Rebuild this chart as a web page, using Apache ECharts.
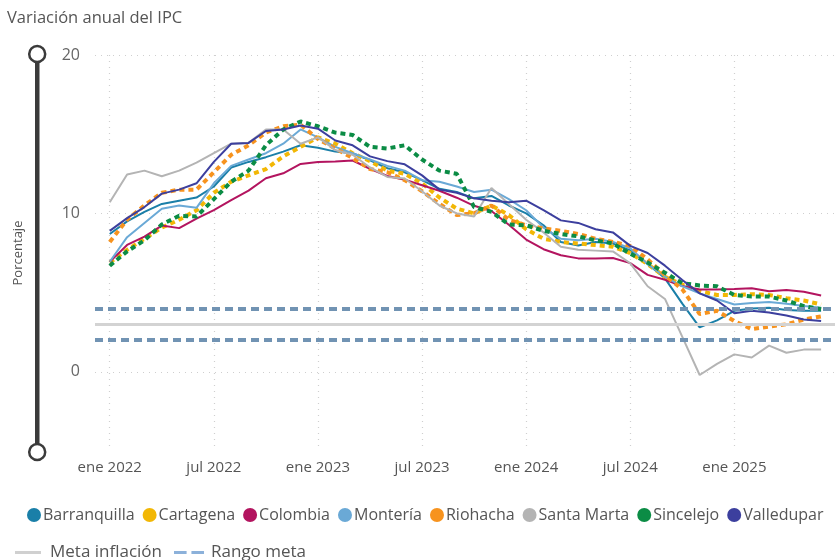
<!DOCTYPE html>
<html>
<head>
<meta charset="utf-8">
<script src="https://cdn.jsdelivr.net/npm/echarts@6/dist/echarts.min.js"></script>
<style>
html,body{margin:0;padding:0;background:#fff;}
#chart{width:835px;height:560px;}
</style>
</head>
<body>
<div id="chart"></div>
<script>
// meses ene 2022 .. jun 2025
const mesesCortos = ['ene','feb','mar','abr','may','jun','jul','ago','sep','oct','nov','dic']
const meses = []
for (let a = 2022; a <= 2025; a++) {
    for (let m = 0; m < 12; m++) {
        if (a === 2025 && m > 5) break
        meses.push(mesesCortos[m] + ' ' + a)
    }
}
const xTicks = [0, 6, 12, 18, 24, 30, 36]
const yTicks = [0, 10, 20]

const barranquilla = [8.7, 9.5, 10.1, 10.6, 10.8, 11.0, 11.7, 12.9, 13.25, 13.55, 13.9, 14.3, 14.15, 13.9, 13.8, 13.35, 12.85, 12.6, 12.1, 11.55, 11.35, 10.95, 11.1, 10.5, 10.0, 9.25, 8.2, 7.97, 8.2, 8.1, 7.66, 6.8, 5.9, 4.3, 2.8, 3.25, 3.85, 4.0, 4.05, 3.9, 3.85, 3.85]
const cartagena = [6.9, 7.7, 8.4, 9.1, 9.6, 10.2, 11.3, 12.0, 12.4, 12.8, 13.6, 14.2, 14.8, 14.4, 13.8, 13.3, 12.7, 12.5, 11.9, 11.0, 10.3, 10.0, 10.5, 9.9, 9.0, 8.4, 8.2, 8.1, 8.0, 7.9, 7.5, 6.8, 6.0, 5.5, 5.1, 4.85, 4.85, 4.9, 4.85, 4.65, 4.5, 4.25]
const colombia = [6.94, 8.01, 8.53, 9.23, 9.07, 9.67, 10.21, 10.84, 11.44, 12.22, 12.53, 13.12, 13.25, 13.28, 13.34, 12.82, 12.36, 12.13, 11.78, 11.43, 10.99, 10.48, 10.15, 9.28, 8.35, 7.74, 7.36, 7.16, 7.16, 7.18, 6.86, 6.12, 5.81, 5.41, 5.20, 5.20, 5.22, 5.28, 5.09, 5.16, 5.05, 4.82]
const monteria = [6.95, 8.5, 9.4, 10.3, 10.5, 10.35, 11.9, 13.0, 13.4, 13.8, 14.4, 15.3, 14.8, 14.2, 13.8, 13.4, 13.0, 12.7, 12.1, 12.0, 11.7, 11.35, 11.5, 10.9, 10.2, 9.1, 8.4, 8.3, 8.4, 8.2, 7.8, 6.8, 6.0, 5.4, 4.95, 4.6, 4.25, 4.35, 4.4, 4.3, 4.15, 4.05]
const riohacha = [8.2, 9.6, 10.5, 11.3, 11.5, 11.5, 12.6, 13.7, 14.3, 15.1, 15.5, 15.6, 14.7, 14.1, 13.5, 12.8, 12.6, 12.1, 11.4, 10.6, 9.9, 10.0, 10.5, 9.6, 9.25, 9.05, 8.9, 8.7, 8.4, 8.2, 7.95, 7.1, 6.1, 5.2, 3.65, 3.85, 3.2, 2.7, 2.85, 3.0, 3.3, 3.5]
const santaMarta = [10.7, 12.45, 12.7, 12.35, 12.7, 13.2, 13.8, 14.4, 14.45, 15.3, 15.3, 14.4, 14.8, 14.0, 13.7, 12.9, 12.3, 12.2, 11.4, 10.5, 10.0, 9.8, 11.6, 10.6, 9.6, 8.8, 7.9, 7.7, 7.65, 7.6, 6.85, 5.4, 4.6, 2.2, -0.2, 0.5, 1.1, 0.9, 1.65, 1.2, 1.4, 1.4]
const sincelejo = [6.7, 7.6, 8.3, 9.3, 9.85, 9.8, 10.9, 12.0, 12.7, 14.3, 15.3, 15.8, 15.5, 15.1, 14.95, 14.2, 14.1, 14.3, 13.4, 12.7, 12.5, 10.4, 10.1, 9.3, 9.25, 8.9, 8.7, 8.55, 8.3, 8.1, 7.45, 6.9, 6.25, 5.6, 5.45, 5.4, 4.85, 4.75, 4.75, 4.5, 4.15, 3.95]
const valledupar = [8.9, 9.7, 10.4, 11.25, 11.5, 11.9, 13.25, 14.4, 14.45, 15.2, 15.3, 15.55, 15.35, 14.6, 14.3, 13.6, 13.3, 13.1, 12.4, 11.5, 11.3, 10.95, 10.8, 10.7, 10.8, 10.2, 9.56, 9.4, 9.0, 8.8, 7.95, 7.5, 6.7, 5.8, 4.95, 4.5, 3.7, 3.85, 3.75, 3.55, 3.3, 3.2]

const metaInflacion = 3
const rangoMeta = [2, 4]

const nombres = ['Barranquilla', 'Cartagena', 'Colombia', 'Montería', 'Riohacha', 'Santa Marta', 'Sincelejo', 'Valledupar']
const valores = [barranquilla, cartagena, colombia, monteria, riohacha, santaMarta, sincelejo, valledupar]
const colores = ['#1a7fa8', '#f2b705', '#b3145f', '#6aa9d6', '#f7931e', '#b4b4b4', '#0b8c45', '#3c3f9e']
const punteada = [false, true, false, false, true, false, true, false]

const fuente = 'Open Sans'
const gris = '#555555'

let myChart = echarts.init(document.getElementById('chart'))

let series = [
    {
        name: 'Meta inflación',
        type: 'line',
        data: [],
        symbol: 'none',
        itemStyle: {color: '#d0d0d0'},
        markLine: {
            silent: true,
            symbol: 'none',
            label: {show: false},
            lineStyle: {color: '#d3d3d3', width: 3, type: 'solid'},
            data: [{yAxis: metaInflacion}]
        }
    },
    {
        name: 'Rango meta',
        type: 'line',
        data: [],
        symbol: 'none',
        itemStyle: {color: '#8cb1da'},
        markLine: {
            silent: true,
            symbol: 'none',
            label: {show: false},
            lineStyle: {color: '#7193b3', width: 4, type: [8, 5]},
            data: rangoMeta.map(v => ({yAxis: v}))
        }
    }
]
for (let k = 0; k < nombres.length; k++) {
    series.push({
        name: nombres[k],
        type: 'line',
        symbol: 'none',
        data: valores[k].map((v, i) => [i, v]),
        itemStyle: {color: colores[k]},
        lineStyle: punteada[k]
            ? {color: colores[k], width: 4, type: [5, 4]}
            : {color: colores[k], width: 2}
    })
}

let option = {
    animation: false,
    title: {
        text: 'Variación anual del IPC',
        left: 2,
        top: 5,
        textStyle: {fontFamily: fuente, fontSize: 16.5, fontWeight: 'normal', color: gris}
    },
    grid: {left: 95, right: 0, top: 55, bottom: 109, containLabel: false, outerBoundsMode: 'none'},
    legend: [
        {
            data: nombres,
            left: 22,
            top: 502,
            width: 1200,
            icon: 'circle',
            itemWidth: 14,
            itemHeight: 14,
            itemGap: 8,
            textStyle: {fontFamily: fuente, fontSize: 16, color: gris, padding: [0, 0, 0, -3]}
        },
        {
            data: [
                {name: 'Meta inflación', icon: 'path://M0 0H26V3H0Z'},
                {name: 'Rango meta', icon: 'path://M0 0H13V3H0Z M18 0H31V3H18Z'}
            ],
            left: 10,
            top: 539,
            itemWidth: 30,
            itemHeight: 3,
            itemGap: 12,
            textStyle: {fontFamily: fuente, fontSize: 17, color: gris, padding: [0, 0, 0, 2]}
        }
    ],
    xAxis: {
        type: 'value',
        min: -0.85,
        max: 41.8,
        axisLine: {show: false},
        axisTick: {show: false, customValues: xTicks},
        axisLabel: {
            customValues: xTicks,
            formatter: v => meses[v],
            fontFamily: fuente,
            fontSize: 15,
            color: gris,
            margin: 9
        },
        splitLine: {show: true, lineStyle: {color: '#cfcfcf', type: [1, 5], width: 1.2}}
    },
    yAxis: {
        type: 'value',
        min: -5,
        max: 20,
        name: 'Porcentaje',
        nameLocation: 'middle',
        nameGap: 70,
        nameTextStyle: {fontFamily: fuente, fontSize: 13, color: gris},
        axisLine: {show: false},
        axisTick: {show: false, customValues: yTicks},
        axisLabel: {
            customValues: yTicks,
            fontFamily: fuente,
            fontSize: 16,
            color: '#666666',
            margin: 15
        },
        splitLine: {show: true, lineStyle: {color: '#cfcfcf', type: [1, 5], width: 1.2}}
    },
    graphic: [
        {type: 'rect', shape: {x: 35, y: 55, width: 4.5, height: 396}, style: {fill: '#3b3b3b'}},
        {type: 'circle', shape: {cx: 37.2, cy: 54, r: 8}, style: {fill: '#fff', stroke: '#3b3b3b', lineWidth: 2.5}},
        {type: 'circle', shape: {cx: 37.2, cy: 452, r: 8}, style: {fill: '#fff', stroke: '#3b3b3b', lineWidth: 2.5}}
    ],
    series: series
}
myChart.setOption(option)
</script>
</body>
</html>
